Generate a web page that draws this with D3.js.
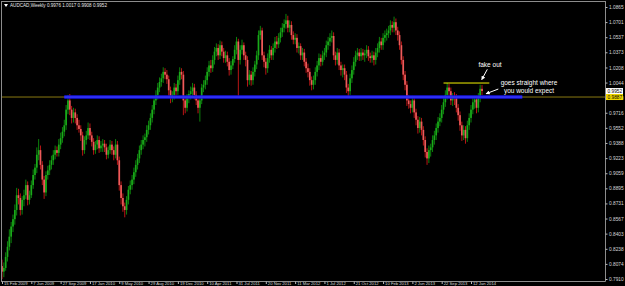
<!DOCTYPE html>
<html><head><meta charset="utf-8">
<script src="https://cdn.jsdelivr.net/npm/d3@7"></script>
<style>
html,body{margin:0;padding:0;background:#000;overflow:hidden}
svg{display:block}
text{font-family:"Liberation Sans",Arial,sans-serif}
</style></head><body>
<svg id="c" width="625" height="286"></svg>
<script>
// ---------- data ----------
const symbolTitle = "AUDCAD,Weekly  0.9976 1.0017 0.9908 0.9952";
const firstWeek = "15 Feb 2009";
const open = [
0.805,0.799,0.803,0.815,0.826,0.837,0.848,0.856,0.866,0.882,
0.879,0.866,0.877,0.882,0.893,0.877,0.882,0.893,0.904,0.912,
0.926,0.931,0.915,0.899,0.885,0.904,0.909,0.915,0.920,0.926,
0.931,0.928,0.937,0.944,0.951,0.958,0.975,0.985,0.975,0.966,
0.972,0.966,0.958,0.954,0.947,0.931,0.942,0.947,0.955,0.947,
0.940,0.931,0.937,0.942,0.933,0.936,0.938,0.934,0.926,0.931,
0.937,0.931,0.926,0.937,0.920,0.893,0.879,0.870,0.866,0.877,
0.888,0.893,0.899,0.907,0.915,0.922,0.931,0.937,0.942,0.945,
0.953,0.958,0.966,0.975,0.985,0.991,0.999,1.005,1.009,1.016,
1.013,1.008,0.996,0.988,0.991,0.999,0.995,1.007,1.016,1.013,
0.985,0.977,0.988,0.992,0.995,0.999,0.991,0.985,0.977,0.985,
0.999,1.002,1.007,1.016,1.023,1.020,1.029,1.038,1.042,1.034,
1.045,1.038,1.031,1.034,1.027,1.018,1.023,1.030,1.040,1.049,
1.029,1.040,1.045,1.034,1.029,1.007,1.013,1.007,1.016,1.024,
1.034,1.056,1.061,1.034,1.027,1.020,1.031,1.040,1.034,1.042,
1.049,1.046,1.053,1.059,1.064,1.068,1.072,1.064,1.067,1.056,
1.051,1.053,1.042,1.044,1.034,1.037,1.027,1.020,1.016,1.007,
1.002,1.007,1.016,1.023,1.031,1.027,1.034,1.037,1.045,1.049,
1.053,1.055,1.034,1.029,1.037,1.023,1.018,1.020,1.013,0.999,
0.995,1.009,1.018,1.027,1.034,1.037,1.033,1.037,1.034,1.036,
1.040,1.033,1.031,1.034,1.029,1.037,1.042,1.049,1.045,1.053,
1.056,1.058,1.061,1.067,1.064,1.070,1.061,1.056,1.045,1.029,
1.013,1.002,0.985,0.981,0.977,0.985,0.972,0.964,0.955,0.962,
0.953,0.942,0.929,0.922,0.931,0.934,0.942,0.947,0.955,0.962,
0.966,0.975,0.983,0.991,0.999,0.995,0.985,0.989,0.988,0.977,
0.969,0.958,0.947,0.953,0.944,0.958,0.966,0.975,0.983,0.986,
0.977,0.988,0.9976];
const high = [
0.812,0.809,0.820,0.832,0.845,0.853,0.861,0.872,0.890,0.889,
0.884,0.881,0.888,0.899,0.897,0.887,0.898,0.910,0.916,0.934,
0.943,0.936,0.919,0.903,0.908,0.914,0.920,0.925,0.931,0.936,
0.935,0.943,0.950,0.956,0.964,0.980,0.991,0.992,0.979,0.977,
0.976,0.970,0.964,0.958,0.951,0.946,0.952,0.961,0.960,0.951,
0.944,0.941,0.947,0.946,0.941,0.943,0.942,0.938,0.935,0.942,
0.941,0.935,0.943,0.941,0.924,0.897,0.884,0.874,0.881,0.892,
0.898,0.904,0.912,0.920,0.927,0.936,0.942,0.947,0.949,0.958,
0.963,0.971,0.980,0.990,0.996,1.004,1.010,1.014,1.021,1.020,
1.018,1.012,1.000,0.995,1.004,1.003,1.012,1.021,1.020,1.017,
0.989,0.992,0.996,1.000,1.004,1.003,0.995,0.989,0.990,1.003,
1.007,1.012,1.021,1.028,1.029,1.034,1.043,1.047,1.046,1.050,
1.049,1.042,1.039,1.038,1.031,1.028,1.033,1.045,1.054,1.052,
1.045,1.051,1.048,1.038,1.033,1.018,1.017,1.021,1.028,1.039,
1.061,1.066,1.064,1.038,1.031,1.036,1.045,1.044,1.047,1.054,
1.055,1.058,1.064,1.069,1.073,1.079,1.077,1.072,1.071,1.060,
1.058,1.057,1.048,1.047,1.042,1.041,1.031,1.025,1.020,1.011,
1.012,1.021,1.028,1.036,1.035,1.039,1.042,1.050,1.054,1.058,
1.061,1.059,1.038,1.042,1.041,1.027,1.024,1.024,1.017,1.003,
1.014,1.023,1.032,1.039,1.042,1.041,1.042,1.041,1.040,1.045,
1.044,1.037,1.039,1.038,1.042,1.047,1.054,1.053,1.058,1.061,
1.063,1.066,1.072,1.071,1.076,1.074,1.065,1.060,1.049,1.033,
1.017,1.006,0.991,0.985,0.990,0.989,0.976,0.968,0.967,0.966,
0.957,0.946,0.933,0.936,0.938,0.947,0.952,0.960,0.967,0.971,
0.980,0.988,0.996,1.004,1.003,0.999,0.993,0.994,0.992,0.981,
0.973,0.962,0.958,0.957,0.963,0.971,0.980,0.988,0.990,0.990,
0.993,1.002,1.0017];
const low = [
0.791,0.793,0.800,0.810,0.822,0.830,0.842,0.850,0.860,0.872,
0.860,0.861,0.870,0.878,0.871,0.872,0.879,0.889,0.899,0.906,
0.920,0.910,0.893,0.878,0.881,0.899,0.904,0.910,0.915,0.921,
0.924,0.924,0.932,0.939,0.946,0.953,0.970,0.969,0.960,0.961,
0.960,0.953,0.950,0.941,0.925,0.927,0.937,0.943,0.942,0.935,
0.926,0.927,0.932,0.928,0.929,0.929,0.929,0.921,0.922,0.927,
0.926,0.920,0.922,0.915,0.887,0.872,0.864,0.858,0.861,0.872,
0.883,0.888,0.894,0.902,0.910,0.917,0.926,0.932,0.935,0.940,
0.948,0.953,0.961,0.970,0.980,0.986,0.994,1.000,1.004,1.008,
1.003,0.990,0.982,0.983,0.986,0.990,0.991,1.002,1.008,0.969,
0.971,0.973,0.982,0.986,0.990,0.986,0.980,0.971,0.962,0.981,
0.994,0.997,1.002,1.011,1.015,1.016,1.024,1.033,1.029,1.030,
1.033,1.026,1.026,1.022,1.012,1.013,1.019,1.026,1.035,0.990,
1.024,1.035,1.029,1.022,1.000,1.002,1.001,1.002,1.011,1.019,
1.029,1.051,1.029,1.021,1.013,1.015,1.026,1.029,1.029,1.037,
1.041,1.042,1.048,1.054,1.059,1.063,1.059,1.059,1.051,1.046,
1.046,1.037,1.036,1.029,1.029,1.022,1.015,1.010,1.001,0.996,
0.997,1.002,1.011,1.018,1.022,1.023,1.029,1.032,1.040,1.044,
1.048,1.029,1.023,1.024,1.018,1.012,1.010,1.007,0.993,0.988,
0.991,1.004,1.013,1.022,1.029,1.028,1.028,1.029,1.027,1.031,
1.028,1.026,1.026,1.023,1.024,1.032,1.037,1.040,1.040,1.048,
1.050,1.053,1.056,1.059,1.059,1.056,1.050,1.040,1.024,1.007,
0.996,0.979,0.976,0.971,0.972,0.966,0.958,0.949,0.950,0.947,
0.936,0.923,0.915,0.917,0.924,0.929,0.937,0.942,0.950,0.957,
0.961,0.970,0.978,0.986,0.990,0.980,0.979,0.980,0.972,0.963,
0.952,0.941,0.942,0.938,0.940,0.953,0.961,0.970,0.976,0.971,
0.972,0.983,0.9908];
const close = [
0.799,0.803,0.815,0.826,0.837,0.848,0.856,0.866,0.882,0.879,
0.866,0.877,0.882,0.893,0.877,0.882,0.893,0.904,0.912,0.926,
0.931,0.915,0.899,0.885,0.904,0.909,0.915,0.920,0.926,0.931,
0.928,0.937,0.944,0.951,0.958,0.975,0.985,0.975,0.966,0.972,
0.966,0.958,0.954,0.947,0.931,0.942,0.947,0.955,0.947,0.940,
0.931,0.937,0.942,0.933,0.936,0.938,0.934,0.926,0.931,0.937,
0.931,0.926,0.937,0.920,0.893,0.879,0.870,0.866,0.877,0.888,
0.893,0.899,0.907,0.915,0.922,0.931,0.937,0.942,0.945,0.953,
0.958,0.966,0.975,0.985,0.991,0.999,1.005,1.009,1.016,1.013,
1.008,0.996,0.988,0.991,0.999,0.995,1.007,1.016,1.013,0.985,
0.977,0.988,0.992,0.995,0.999,0.991,0.985,0.977,0.985,0.999,
1.002,1.007,1.016,1.023,1.020,1.029,1.038,1.042,1.034,1.045,
1.038,1.031,1.034,1.027,1.018,1.023,1.030,1.040,1.049,1.029,
1.040,1.045,1.034,1.029,1.007,1.013,1.007,1.016,1.024,1.034,
1.056,1.061,1.034,1.027,1.020,1.031,1.040,1.034,1.042,1.049,
1.046,1.053,1.059,1.064,1.068,1.072,1.064,1.067,1.056,1.051,
1.053,1.042,1.044,1.034,1.037,1.027,1.020,1.016,1.007,1.002,
1.007,1.016,1.023,1.031,1.027,1.034,1.037,1.045,1.049,1.053,
1.055,1.034,1.029,1.037,1.023,1.018,1.020,1.013,0.999,0.995,
1.009,1.018,1.027,1.034,1.037,1.033,1.037,1.034,1.036,1.040,
1.033,1.031,1.034,1.029,1.037,1.042,1.049,1.045,1.053,1.056,
1.058,1.061,1.067,1.064,1.070,1.061,1.056,1.045,1.029,1.013,
1.002,0.985,0.981,0.977,0.985,0.972,0.964,0.955,0.962,0.953,
0.942,0.929,0.922,0.931,0.934,0.942,0.947,0.955,0.962,0.966,
0.975,0.983,0.991,0.999,0.995,0.985,0.989,0.988,0.977,0.969,
0.958,0.947,0.953,0.944,0.958,0.966,0.975,0.983,0.986,0.977,
0.988,0.9976,0.9952];
const timeLabels = ["15 Feb 2009","7 Jun 2009","27 Sep 2009","17 Jan 2010","9 May 2010",
  "29 Aug 2010","19 Dec 2010","10 Apr 2011","31 Jul 2011","20 Nov 2011","11 Mar 2012",
  "1 Jul 2012","21 Oct 2012","10 Feb 2013","2 Jun 2013","22 Sep 2013","12 Jan 2014"];
const priceTicks = [0.7910,0.8074,0.8238,0.8403,0.8567,0.8731,0.8895,0.9059,0.9223,0.9388,
  0.9552,0.9716,0.9880,1.0044,1.0208,1.0373,1.0537,1.0701,1.0865];
const levelPrice = 0.9887;            // olive horizontal line + blue trend line
const blueFrom = "11 Oct 2009", blueTo = "27 Jul 2014";
const fakeOutPrice = 1.0039;
const fakeFrom = "29 Sep 2013", fakeTo = "23 Mar 2014";
const lastPrice = 0.9952;
const notes = ["fake out", "goes straight where", "you would expect"];

// ---------- scales ----------
const W = 625, H = 286;
const plotL = 1, plotR = 605, plotT = 1, plotB = 281;
const parse = d3.utcParse("%d %b %Y");
const start = parse(firstWeek);
const n = close.length;
const dates = d3.range(n).map(i => d3.utcDay.offset(start, 7 * i));
const bars = dates.map((d, i) => ({d, o: open[i], h: high[i], l: low[i], c: close[i]}));

const x = d3.scaleUtc().domain([dates[0], dates[n - 1]]).range([2, 482]);
const y = d3.scaleLinear().domain([0.7910, 1.0865]).range([279, 7]);

const svg = d3.select("#c");
svg.append("rect").attr("width", W).attr("height", H).attr("fill", "#000");

const plot = svg.append("g");
plot.append("clipPath").attr("id", "clip").append("rect")
  .attr("x", plotL + 1).attr("y", plotT + 1).attr("width", plotR - plotL - 1).attr("height", plotB - plotT - 1);
const g = plot.append("g").attr("clip-path", "url(#clip)");

// olive horizontal line (full width)
g.append("line")
  .attr("x1", plotL).attr("x2", plotR)
  .attr("y1", y(levelPrice)).attr("y2", y(levelPrice))
  .attr("stroke", "#8a7812").attr("stroke-width", 1);

// candles
const bw = 1.7;
const cg = g.append("g");
cg.selectAll("line.wick").data(bars).join("line")
  .attr("class", "wick")
  .attr("x1", d => x(d.d)).attr("x2", d => x(d.d))
  .attr("y1", d => y(d.h)).attr("y2", d => y(d.l))
  .attr("stroke", d => d.c >= d.o ? "#0c820c" : "#b81616")
  .attr("stroke-width", 1);
cg.selectAll("rect.body").data(bars).join("rect")
  .attr("class", "body")
  .attr("x", d => x(d.d) - bw / 2)
  .attr("width", bw)
  .attr("y", d => y(Math.max(d.o, d.c)))
  .attr("height", d => Math.max(0.8, Math.abs(y(d.o) - y(d.c))))
  .attr("fill", d => d.c >= d.o ? "#1aaa1a" : "#ee5a5a");

// blue trend line
const bx1 = x(parse(blueFrom)), bx2 = x(parse(blueTo));
g.append("line").attr("x1", bx1).attr("x2", bx2)
  .attr("y1", y(levelPrice)).attr("y2", y(levelPrice))
  .attr("stroke", "#1414e6").attr("stroke-width", 3.4);
g.append("line").attr("x1", bx1).attr("x2", bx2)
  .attr("y1", y(levelPrice)).attr("y2", y(levelPrice))
  .attr("stroke", "#4a4aff").attr("stroke-width", 1);

// fake-out yellow line
g.append("line").attr("x1", x(parse(fakeFrom))).attr("x2", x(parse(fakeTo)))
  .attr("y1", y(fakeOutPrice)).attr("y2", y(fakeOutPrice))
  .attr("stroke", "#f4f400").attr("stroke-width", 1);

// annotations
const lastX = x(dates[n - 1]);
const defs = svg.append("defs");
defs.append("marker").attr("id", "ah").attr("viewBox", "0 0 10 10")
  .attr("refX", 9).attr("refY", 5).attr("markerWidth", 4).attr("markerHeight", 4)
  .attr("orient", "auto")
  .append("path").attr("d", "M0,0 L10,5 L0,10 z").attr("fill", "#fff");
const ann = svg.append("g");
const fy = y(fakeOutPrice), ly = y(lastPrice);
ann.append("line").attr("x1", lastX + 5.3).attr("y1", fy - 13.7)
  .attr("x2", lastX - 0.3).attr("y2", fy - 3.3)
  .attr("stroke", "#fff").attr("stroke-width", 1).attr("marker-end", "url(#ah)");
ann.append("line").attr("x1", lastX + 16.3).attr("y1", ly - 2)
  .attr("x2", lastX + 4).attr("y2", ly + 2.7)
  .attr("stroke", "#fff").attr("stroke-width", 1).attr("marker-end", "url(#ah)");
ann.append("text").attr("x", lastX + 8).attr("y", fy - 16)
  .attr("text-anchor", "middle").attr("fill", "#fff").attr("font-size", 6.5).text(notes[0]);
ann.append("text").attr("x", lastX + 47).attr("y", ly - 6)
  .attr("text-anchor", "middle").attr("fill", "#fff").attr("font-size", 6.5).text(notes[1]);
ann.append("text").attr("x", lastX + 47).attr("y", ly + 2)
  .attr("text-anchor", "middle").attr("fill", "#fff").attr("font-size", 6.5).text(notes[2]);

// frame
const frame = svg.append("g").attr("stroke", "#8c8c8c").attr("stroke-width", 1).attr("fill", "none");
frame.append("line").attr("x1", plotL + 0.5).attr("x2", plotL + 0.5).attr("y1", plotT).attr("y2", plotB + 0.5);
frame.append("line").attr("x1", plotL).attr("x2", plotR + 0.5).attr("y1", plotT + 0.5).attr("y2", plotT + 0.5);
frame.append("line").attr("x1", plotR + 0.5).attr("x2", plotR + 0.5).attr("y1", plotT).attr("y2", plotB + 0.5);
frame.append("line").attr("x1", plotL).attr("x2", plotR + 0.5).attr("y1", plotB + 0.5).attr("y2", plotB + 0.5);

// y axis
const ya = svg.append("g").attr("transform", `translate(${plotR + 0.5},0)`)
  .call(d3.axisRight(y).tickValues(priceTicks).tickSize(2).tickPadding(1.5).tickFormat(d3.format(".4f")));
ya.select(".domain").remove();
ya.selectAll("line").attr("stroke", "#bbb");
ya.selectAll("text").attr("fill", "#d8d8d8").attr("font-size", 4.8)
  .attr("font-family", "Liberation Sans, Arial, sans-serif");

// price boxes
function priceBox(price, bg) {
  const gy = y(price);
  const b = svg.append("g");
  b.append("rect").attr("x", plotR + 1).attr("y", gy - 3).attr("width", 17).attr("height", 6).attr("fill", bg);
  b.append("text").attr("x", plotR + 2.5).attr("y", gy).attr("dy", "0.34em")
    .attr("fill", "#000").attr("font-size", 4.8).text(d3.format(".4f")(price));
}
priceBox(lastPrice, "#ffffff");
priceBox(levelPrice, "#f0d800");

// x axis
const tickDates = timeLabels.map(parse);
const xa = svg.append("g").attr("transform", `translate(0,${plotB + 0.5})`)
  .call(d3.axisBottom(x).tickValues(tickDates).tickSize(2.5).tickFormat((d, i) => timeLabels[i]));
xa.select(".domain").remove();
xa.selectAll("line").attr("stroke", "#bbb");
xa.selectAll("text").attr("fill", "#d8d8d8").attr("font-size", 4.2)
  .attr("text-anchor", "start").attr("x", 1.5).attr("y", 0.6).attr("dy", "0.71em")
  .attr("font-family", "Liberation Sans, Arial, sans-serif");

// title
svg.append("path").attr("d", "M4,4 L8,4 L6,7 z").attr("fill", "#fff");
svg.append("text").attr("x", 10).attr("y", 6.6).attr("fill", "#e8e8e8")
  .attr("font-size", 4.6).text(symbolTitle);
</script>
</body></html>
